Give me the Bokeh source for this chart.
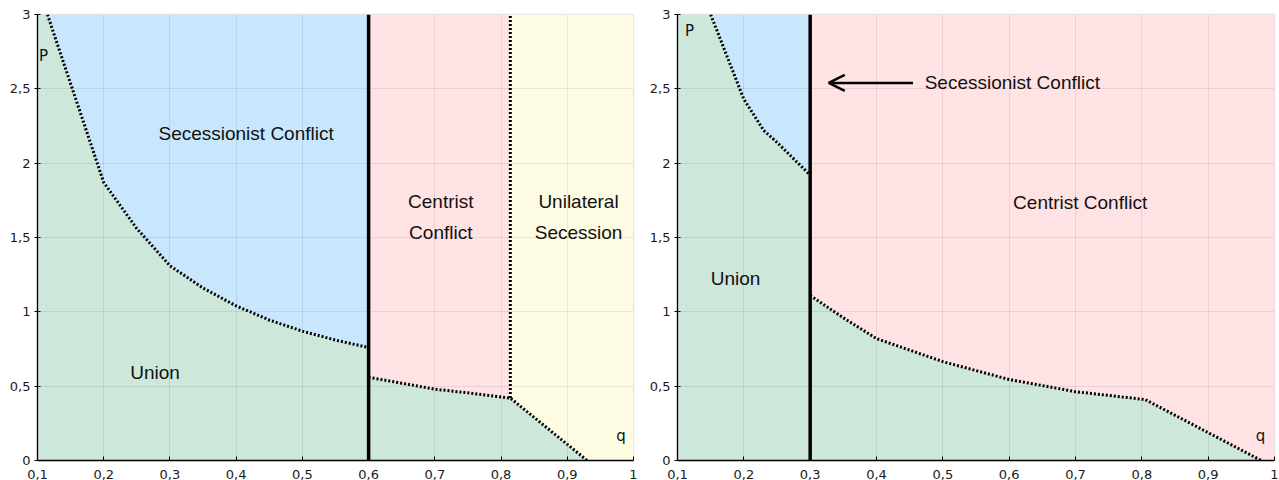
from bokeh.plotting import figure
from bokeh.layouts import row
from bokeh.models import Range1d, FixedTicker, Arrow, OpenHead
from bokeh.core.properties import value
from bokeh.embed import file_html
from bokeh.resources import INLINE

# ---------------- data ----------------
x_ticks = [0.1, 0.2, 0.3, 0.4, 0.5, 0.6, 0.7, 0.8, 0.9, 1]
x_tick_labels = ["0,1", "0,2", "0,3", "0,4", "0,5", "0,6", "0,7", "0,8", "0,9", "1"]
y_ticks = [0, 0.5, 1, 1.5, 2, 2.5, 3]
y_tick_labels = ["0", "0,5", "1", "1,5", "2", "2,5", "3"]

# Left panel
L_sec_q = [0.115, 0.2, 0.25, 0.3, 0.35, 0.4, 0.45, 0.5, 0.55, 0.6]
L_sec_p = [3.0, 1.87, 1.56, 1.31, 1.16, 1.04, 0.945, 0.87, 0.81, 0.76]
L_low_q = [0.6, 0.7, 0.75, 0.814, 0.93]
L_low_p = [0.56, 0.48, 0.455, 0.42, 0.0]
L_centrist_q = 0.6
L_unilateral_q = 0.814

# Right panel
R_sec_q = [0.15, 0.2, 0.23, 0.25, 0.3]
R_sec_p = [3.0, 2.43, 2.22, 2.14, 1.92]
R_low_q = [0.3, 0.35, 0.4, 0.5, 0.6, 0.7, 0.805, 0.98]
R_low_p = [1.11, 0.96, 0.82, 0.665, 0.545, 0.463, 0.41, 0.0]
R_centrist_q = 0.3

# colours
GREEN = "#cde7db"
BLUE = "#c8e7fc"
PINK = "#ffe2e4"
YELLOW = "#fefbe3"

QMIN, QMAX, PMIN, PMAX = 0.1, 1.0, 0.0, 3.0

LABEL_FONT = value("Liberation Sans")
LABEL_SIZE = "19px"


def make_fig(border_left, frame_w, border_right):
    p = figure(frame_width=frame_w, frame_height=446,
               x_range=Range1d(QMIN, QMAX), y_range=Range1d(PMIN, PMAX),
               output_backend="svg", toolbar_location=None,
               min_border_left=border_left, min_border_right=border_right,
               min_border_top=14, min_border_bottom=20)
    p.background_fill_color = "white"
    p.border_fill_color = "white"
    p.outline_line_color = "#e3e3e3"
    p.outline_line_width = 1.5
    p.xaxis.ticker = FixedTicker(ticks=x_ticks)
    p.yaxis.ticker = FixedTicker(ticks=y_ticks)
    p.xaxis.major_label_overrides = dict(zip(x_ticks, x_tick_labels))
    p.yaxis.major_label_overrides = dict(zip(y_ticks, y_tick_labels))
    for ax in (p.xaxis[0], p.yaxis[0]):
        ax.axis_line_color = "black"
        ax.axis_line_width = 1.3
        ax.major_tick_line_color = "black"
        ax.major_tick_line_width = 1
        ax.minor_tick_line_color = None
        ax.major_label_text_font = "DejaVu Sans"
        ax.major_label_text_font_size = "13px"
        ax.major_label_text_color = "#1a1a1a"
    p.xaxis.major_tick_in = 4
    p.xaxis.major_tick_out = 0
    p.xaxis.major_label_standoff = 9
    p.yaxis.major_tick_in = 3
    p.yaxis.major_tick_out = 3
    p.yaxis.major_label_standoff = 4
    for g in (p.xgrid[0], p.ygrid[0]):
        g.grid_line_color = "black"
        g.grid_line_alpha = 0.08
        g.grid_line_width = 1
    return p


def dotted(p, xs, ys):
    p.line(xs, ys, line_color="black", line_width=3, line_dash="2 2")


def solid_v(p, q):
    p.line([q, q], [PMIN, PMAX], line_color="black", line_width=3.5)


# ---------------- left panel ----------------
p1 = make_fig(37, 596, 10)

p1.patch([QMIN, QMIN, L_centrist_q, L_centrist_q],
         [PMIN, PMAX, PMAX, PMIN], fill_color=BLUE, line_color=None, level="image")
p1.patch([L_centrist_q, L_centrist_q, L_unilateral_q, L_unilateral_q],
         [PMIN, PMAX, PMAX, PMIN], fill_color=PINK, line_color=None, level="image")
p1.patch([L_unilateral_q, L_unilateral_q, QMAX, QMAX],
         [PMIN, PMAX, PMAX, PMIN], fill_color=YELLOW, line_color=None, level="image")
g_x = [QMIN, QMIN] + L_sec_q + L_low_q
g_y = [PMIN, PMAX] + L_sec_p + L_low_p
p1.patch(g_x, g_y, fill_color=GREEN, line_color=None, level="image")

dotted(p1, L_sec_q, L_sec_p)
dotted(p1, L_low_q, L_low_p)
dotted(p1, [L_unilateral_q, L_unilateral_q], [L_low_p[3], PMAX])
solid_v(p1, L_centrist_q)

p1.text(x=[0.415, 0.709, 0.917, 0.2775], y=[2.2, 1.64, 1.64, 0.59],
        text=["Secessionist Conflict", "Centrist\nConflict", "Unilateral\nSecession", "Union"],
        text_font=LABEL_FONT, text_font_size=LABEL_SIZE, text_align="center",
        text_baseline="middle", text_line_height=1.47, text_color="#111111")
p1.text(x=[0.109, 0.981], y=[2.72, 0.168], text=["P", "q"],
        text_font=value("DejaVu Sans"), text_font_size="15px",
        text_align="center", text_baseline="middle", text_color="#111111")

# ---------------- right panel ----------------
p2 = make_fig(34, 597, 5)

p2.patch([QMIN, QMIN, R_centrist_q, R_centrist_q], [PMIN, PMAX, PMAX, PMIN],
         fill_color=BLUE, line_color=None, level="image")
p2.patch([R_centrist_q, R_centrist_q, QMAX, QMAX], [PMIN, PMAX, PMAX, PMIN],
         fill_color=PINK, line_color=None, level="image")
g2_x = [QMIN, QMIN] + R_sec_q + R_low_q
g2_y = [PMIN, PMAX] + R_sec_p + R_low_p
p2.patch(g2_x, g2_y, fill_color=GREEN, line_color=None, level="image")

dotted(p2, R_sec_q, R_sec_p)
dotted(p2, R_low_q, R_low_p)
solid_v(p2, R_centrist_q)

p2.add_layout(Arrow(end=OpenHead(size=16, line_width=2.5, line_color="black"),
                    x_start=0.455, y_start=2.54, x_end=0.328, y_end=2.54,
                    line_width=2.5, line_color="black"))

p2.text(x=[0.4726], y=[2.54], text=["Secessionist Conflict"],
        text_font=LABEL_FONT, text_font_size=LABEL_SIZE, text_align="left",
        text_baseline="middle", text_color="#111111")
p2.text(x=[0.707, 0.1875], y=[1.735, 1.224], text=["Centrist Conflict", "Union"],
        text_font=LABEL_FONT, text_font_size=LABEL_SIZE, text_align="center",
        text_baseline="middle", text_color="#111111")
p2.text(x=[0.118, 0.979], y=[2.89, 0.168], text=["P", "q"],
        text_font=value("DejaVu Sans"), text_font_size="15px",
        text_align="center", text_baseline="middle", text_color="#111111")

layout = row(p1, p2)
open("out.html", "w").write(file_html(layout, INLINE))
